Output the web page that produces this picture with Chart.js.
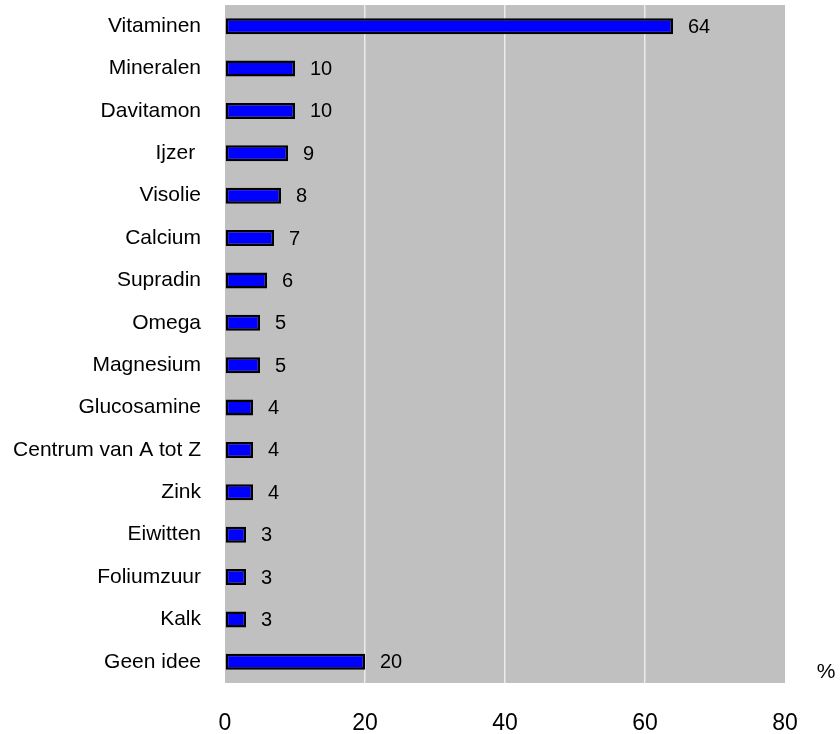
<!DOCTYPE html>
<html>
<head>
<meta charset="utf-8">
<script src="https://cdn.jsdelivr.net/npm/chart.js@4"></script>
<style>
  html, body { margin: 0; padding: 0; background: #ffffff; }
  #wrap { width: 840px; height: 734px; position: relative; }
</style>
</head>
<body>
<div id="wrap"><canvas id="chart" width="840" height="734"></canvas></div>
<script>
// Supplement names, top to bottom
const categories = [
  'Vitaminen', 'Mineralen', 'Davitamon', 'Ijzer ', 'Visolie', 'Calcium',
  'Supradin', 'Omega', 'Magnesium', 'Glucosamine', 'Centrum van A tot Z',
  'Zink', 'Eiwitten', 'Foliumzuur', 'Kalk', 'Geen idee'
];
// Share of respondents naming each supplement (%)
const percentages = [64, 10, 10, 9, 8, 7, 6, 5, 5, 4, 4, 4, 3, 3, 3, 20];
// Value axis ticks
const xTicks = [0, 20, 40, 60, 80];

const FONT = "'Liberation Sans', Arial, sans-serif";

// Grey plot-area background
const plotBackground = {
  id: 'plotBackground',
  beforeDraw(chart) {
    const { ctx, chartArea: a } = chart;
    ctx.save();
    ctx.fillStyle = '#c0c0c0';
    ctx.fillRect(a.left, a.top, a.right - a.left, a.bottom - a.top);
    ctx.restore();
  }
};

// Value labels to the right of each bar, plus the "%" unit mark
const valueLabels = {
  id: 'valueLabels',
  afterDatasetsDraw(chart) {
    const { ctx } = chart;
    const meta = chart.getDatasetMeta(0);
    ctx.save();
    ctx.font = '20px ' + FONT;
    ctx.fillStyle = '#000000';
    ctx.textAlign = 'left';
    ctx.textBaseline = 'middle';
    meta.data.forEach((bar, i) => {
      ctx.fillText(String(percentages[i]), bar.x + 15, bar.y + 1);
    });
    ctx.font = '21px ' + FONT;
    ctx.textAlign = 'center';
    ctx.fillText('%', 826, 672);
    ctx.restore();
  }
};

new Chart(document.getElementById('chart'), {
  type: 'bar',
  data: {
    labels: categories,
    datasets: [{
      data: percentages,
      backgroundColor: '#0000ff',
      borderColor: '#000000',
      borderWidth: 2.5,
      borderSkipped: false,
      barPercentage: 0.38,
      categoryPercentage: 1.0
    }]
  },
  options: {
    indexAxis: 'y',
    responsive: false,
    animation: false,
    layout: { padding: { top: 5, right: 55, left: 0, bottom: 0 } },
    plugins: {
      legend: { display: false },
      tooltip: { enabled: false }
    },
    scales: {
      x: {
        type: 'linear',
        min: 0,
        max: 80,
        afterBuildTicks(scale) {
          scale.ticks = xTicks.map(v => ({ value: v }));
        },
        afterFit(scale) {
          scale.height = 51;
          scale.paddingLeft = 0;
          scale.paddingRight = 0;
        },
        border: { display: false },
        grid: {
          drawTicks: false,
          lineWidth: 1.5,
          color: ctx => (ctx.tick && ctx.tick.value > 0 && ctx.tick.value < 80) ? '#ececec' : 'rgba(0,0,0,0)'
        },
        ticks: {
          padding: 27,
          color: '#000000',
          font: { family: FONT, size: 23 }
        }
      },
      y: {
        afterFit(scale) {
          scale.width = 225;
          scale.paddingTop = 0;
          scale.paddingBottom = 0;
        },
        border: { display: false },
        grid: { display: false, drawTicks: false },
        ticks: {
          padding: 24,
          color: '#000000',
          font: { family: FONT, size: 21 }
        }
      }
    }
  },
  plugins: [plotBackground, valueLabels]
});
</script>
</body>
</html>
